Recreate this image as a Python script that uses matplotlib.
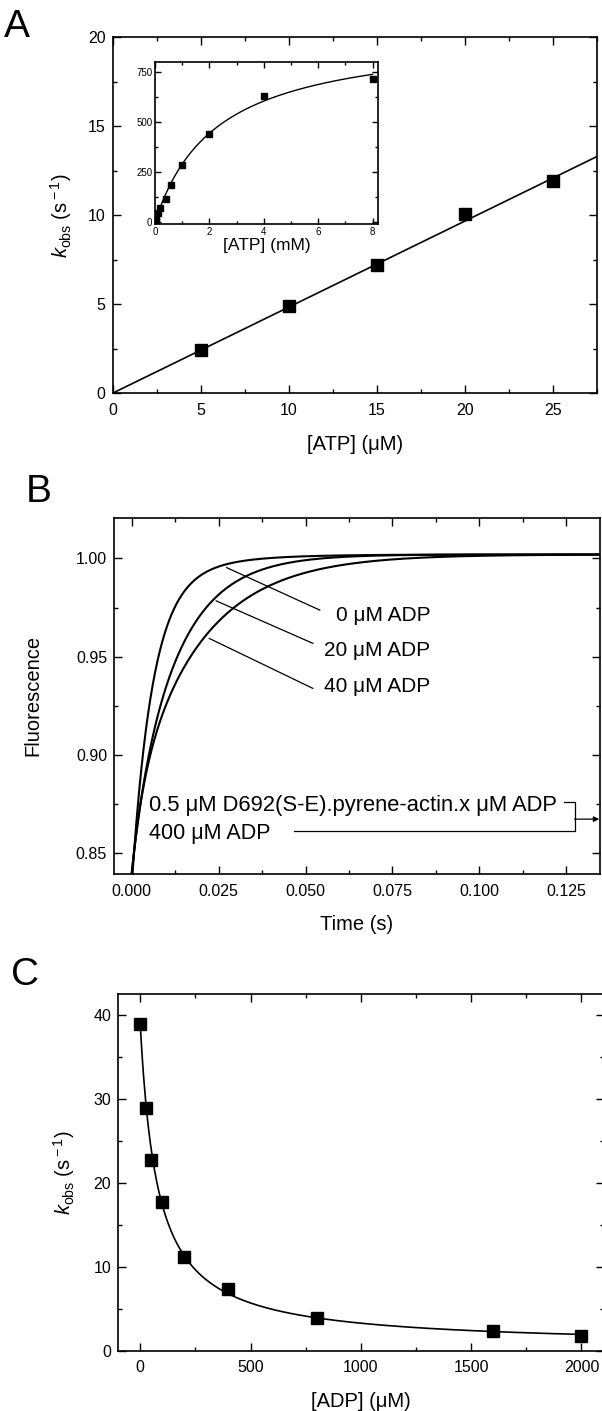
import numpy as np
import matplotlib
matplotlib.use("Agg")
import matplotlib.pyplot as plt
from matplotlib.ticker import MultipleLocator, FormatStrFormatter

plt.rcParams['font.family'] = ['Liberation Sans', 'DejaVu Sans']
plt.rcParams['mathtext.fontset'] = 'custom'
plt.rcParams['mathtext.rm'] = 'Liberation Sans'
plt.rcParams['mathtext.it'] = 'Liberation Sans:italic'

# ---- panel A : kobs vs [ATP] (uM), linear fit
atp_uM = [5, 10, 15, 20, 25]
kobs_A = [2.45, 4.9, 7.2, 10.05, 11.9]
fitA_x = [0, 27.5]
fitA_y = [0, 13.3]

# ---- inset : kobs vs [ATP] (mM), hyperbolic fit
atp_mM = [0.025, 0.05, 0.1, 0.2, 0.4, 0.6, 1, 2, 4, 8]
kobs_inset = [8, 25, 45, 70, 115, 188, 285, 440, 630, 718]
inset_vmax = 950.0
inset_km = 2.27

# ---- panel B : pyrene fluorescence transients (double exp fit parameters)
adp_labels = ['0 \u03bcM ADP', '20 \u03bcM ADP', '40 \u03bcM ADP']
plateau = 1.002
amp_fast = [0.150, 0.0185, 0.0374]
k_fast = [170, 300, 300]
amp_slow = [0.018, 0.1435, 0.1246]
k_slow = [60, 78, 52]

# ---- panel C : kobs vs [ADP] (uM), hyperbolic decay fit
adp_uM = [0, 25, 50, 100, 200, 400, 800, 1600, 2000]
kobs_C = [39, 28.9, 22.7, 17.7, 11.2, 7.4, 3.9, 2.4, 1.7]
k0_C = 38.5
kd_C = 78.0
kinf_C = 0.5

kobs_label = r'$\it{k}_{\rm obs}$ (s$^{\rm -1}$)'
TICK = 11.5
LAB = 14.5


def style_axes(ax, size=TICK, major=6, minor=3, pad=5):
    ax.tick_params(which='both', direction='in', top=True, right=True,
                   labelsize=size, width=1, pad=pad)
    ax.tick_params(which='major', length=major)
    ax.tick_params(which='minor', length=minor)
    for s in ax.spines.values():
        s.set_linewidth(1.2)


fig = plt.figure(figsize=(6.02, 14.11), dpi=100)

# ================= A
axA = fig.add_axes([0.1869, 0.7213, 0.8048, 0.2523])
axA.plot(fitA_x, fitA_y, color='black', lw=1.2)
axA.plot(atp_uM, kobs_A, 's', color='black', ms=8)
axA.set_xlim(0, 27.5)
axA.set_ylim(0, 20)
axA.xaxis.set_major_locator(MultipleLocator(5))
axA.xaxis.set_minor_locator(MultipleLocator(2.5))
axA.yaxis.set_major_locator(MultipleLocator(5))
axA.yaxis.set_minor_locator(MultipleLocator(2.5))
style_axes(axA)
axA.tick_params(axis='x', pad=7)
axA.set_xlabel('[ATP] (\u03bcM)', fontsize=LAB, labelpad=12)
axA.set_ylabel(kobs_label, fontsize=LAB, labelpad=10)
fig.text(0.006, 0.9935, 'A', fontsize=28, va='top', ha='left')

# inset
axI = fig.add_axes([0.2575, 0.8412, 0.3704, 0.1146])
xs = np.linspace(0, 8.0, 200)
axI.plot(xs, inset_vmax * xs / (inset_km + xs), color='black', lw=1.0)
axI.plot(atp_mM, kobs_inset, 's', color='black', ms=5)
axI.set_xlim(0, 8.2)
axI.set_ylim(-10, 800)
axI.xaxis.set_major_locator(MultipleLocator(2))
axI.xaxis.set_minor_locator(MultipleLocator(1))
axI.yaxis.set_major_locator(MultipleLocator(250))
axI.yaxis.set_minor_locator(MultipleLocator(125))
style_axes(axI, size=7, major=4, minor=2, pad=2)
axI.set_xlabel('[ATP] (mM)', fontsize=12.5, labelpad=1)

# ================= B
axB = fig.add_axes([0.1894, 0.3806, 0.8066, 0.2525])
t = np.linspace(0, 0.135, 800)
for a1, k1, a2, k2 in zip(amp_fast, k_fast, amp_slow, k_slow):
    f = plateau - a1 * np.exp(-k1 * t) - a2 * np.exp(-k2 * t)
    axB.plot(t, f, color='black', lw=1.5)
axB.set_xlim(-0.0051, 0.1346)
axB.set_ylim(0.8395, 1.0207)
axB.xaxis.set_major_locator(MultipleLocator(0.025))
axB.xaxis.set_minor_locator(MultipleLocator(0.0125))
axB.yaxis.set_major_locator(MultipleLocator(0.05))
axB.yaxis.set_minor_locator(MultipleLocator(0.025))
axB.xaxis.set_major_formatter(FormatStrFormatter('%.3f'))
axB.yaxis.set_major_formatter(FormatStrFormatter('%.2f'))
style_axes(axB)
axB.tick_params(axis='x', pad=7)
axB.set_xlabel('Time (s)', fontsize=LAB, labelpad=12)
axB.set_ylabel('Fluorescence', fontsize=LAB, labelpad=24)
fig.text(0.043, 0.651, 'B', fontsize=28, va='center', ha='left')

# labels with leader lines
lead_from = [(0.0273, 0.9953), (0.0243, 0.9784), (0.0223, 0.9593)]
lead_to = [(0.0541, 0.9737), (0.0521, 0.9568), (0.0521, 0.9339)]
text_pos = [(0.0588, 0.9712), (0.0552, 0.9534), (0.0552, 0.9347)]
for lab, p0, p1, tp in zip(adp_labels, lead_from, lead_to, text_pos):
    axB.plot([p0[0], p1[0]], [p0[1], p1[1]], color='black', lw=0.9)
    axB.text(tp[0], tp[1], lab, fontsize=15, va='center', ha='left')

axB.text(0.0050, 0.8745, '0.5 \u03bcM D692(S-E).pyrene-actin.x \u03bcM ADP',
         fontsize=15.8, va='center', ha='left')
axB.text(0.0050, 0.8603, '400 \u03bcM ADP', fontsize=15.5, va='center', ha='left')
axB.plot([0.0466, 0.1274, 0.1274, 0.1244], [0.8613, 0.8613, 0.8759, 0.8759],
         color='black', lw=0.9)
axB.annotate('', xy=(0.1345, 0.8674), xytext=(0.1274, 0.8674),
             arrowprops=dict(arrowstyle='-|>', color='black', lw=0.9,
                             mutation_scale=8, shrinkA=0, shrinkB=0))

# ================= C
axC = fig.add_axes([0.1963, 0.0427, 0.8062, 0.2526])
xc = np.linspace(0, 2000, 400)
axC.plot(xc, k0_C * kd_C / (kd_C + xc) + kinf_C, color='black', lw=1.2)
axC.plot(adp_uM, kobs_C, 's', color='black', ms=8)
axC.set_xlim(-100, 2100)
axC.set_ylim(0, 42.5)
axC.xaxis.set_major_locator(MultipleLocator(500))
axC.xaxis.set_minor_locator(MultipleLocator(250))
axC.yaxis.set_major_locator(MultipleLocator(10))
axC.yaxis.set_minor_locator(MultipleLocator(5))
style_axes(axC)
axC.tick_params(axis='x', pad=7)
axC.set_xlabel('[ADP] (\u03bcM)', fontsize=LAB, labelpad=12)
axC.set_ylabel(kobs_label, fontsize=LAB, labelpad=12)
fig.text(0.018, 0.309, 'C', fontsize=28, va='center', ha='left')

fig.savefig('out.png', dpi=100)
